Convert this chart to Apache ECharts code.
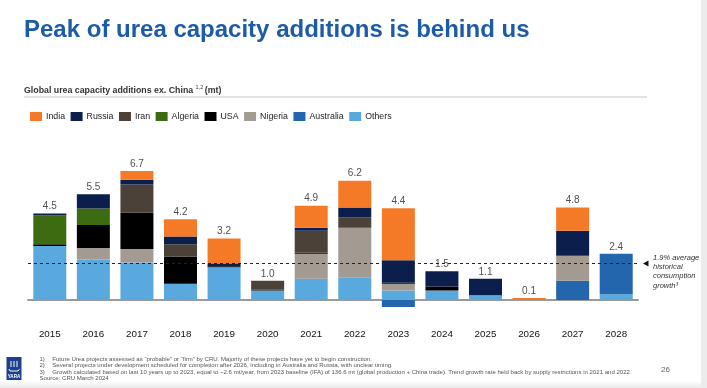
<!DOCTYPE html>
<html>
<head>
<meta charset="utf-8">
<script src="https://cdn.jsdelivr.net/npm/echarts@6/dist/echarts.min.js"></script>
<style>
html,body{margin:0;padding:0;background:#fff;}
#c{width:707px;height:388px;}
</style>
</head>
<body>
<div id="c"></div>
<script>
const years = ['2015','2016','2017','2018','2019','2020','2021','2022','2023','2024','2025','2026','2027','2028'];
const others    = [2.8, 2.1, 1.95, 0.85, 1.7, 0.5, 1.1, 1.15, 0.5, 0.5, 0.25, 0, 0, 0.3];
const australia = [0, 0, 0, 0, 0, 0, 0, 0, -0.37, 0, 0, 0, 1.0, 2.1];
const nigeria   = [0, 0.6, 0.7, 0, 0, 0, 1.3, 2.6, 0.35, 0, 0, 0, 1.3, 0];
const usa       = [0.1, 1.2, 1.9, 1.4, 0.05, 0.05, 0.05, 0, 0.05, 0.2, 0, 0, 0, 0];
const algeria   = [1.5, 0.85, 0, 0, 0, 0, 0, 0, 0, 0, 0, 0, 0, 0];
const iran      = [0, 0, 1.45, 0.65, 0, 0.45, 1.15, 0.55, 0, 0, 0, 0, 0, 0];
const russia    = [0.1, 0.75, 0.25, 0.4, 0.15, 0, 0.15, 0.5, 1.17, 0.8, 0.85, 0, 1.3, 0];
const india     = [0, 0, 0.45, 0.9, 1.3, 0, 1.15, 1.4, 2.7, 0, 0, 0.1, 1.2, 0];
const totals    = ['4.5','5.5','6.7','4.2','3.2','1.0','4.9','6.2','4.4','1.5','1.1','0.1','4.8','2.4'];
const growthLine = 1.9;

const seriesDefs = [
  ['Others', others, '#59a9df'],
  ['Australia', australia, '#2366ad'],
  ['Nigeria', nigeria, '#a39a92'],
  ['USA', usa, '#000000'],
  ['Algeria', algeria, '#3d6b12'],
  ['Iran', iran, '#4b4139'],
  ['Russia', russia, '#0c1f4c'],
  ['India', india, '#f57a28']
];
const legendOrder = ['India','Russia','Iran','Algeria','USA','Nigeria','Australia','Others'];

const posTop = years.map((_, i) => seriesDefs.reduce((s, d) => s + Math.max(0, d[1][i]), 0));

const chart = echarts.init(document.getElementById('c'), null, {renderer:'canvas'});

const series = seriesDefs.map(d => ({
  name: d[0], type: 'bar', stack: 'cap', data: d[1], barWidth: 33,
  itemStyle: {color: d[2]}, emphasis: {disabled: true}
}));
series.push({
  name: 'Total', type: 'scatter', data: posTop, symbolSize: 0, silent: true, z: 10,
  label: {show: true, position: 'top', distance: 2, fontSize: 10, color: '#222',
          fontFamily: 'Liberation Sans, Arial', formatter: p => totals[p.dataIndex]},
  markLine: {symbol: 'none', silent: true, label: {show: false},
    lineStyle: {type: [3, 3], color: '#222', width: 1},
    data: [{yAxis: growthLine}]}
});

chart.setOption({
  animation: false,
  textStyle: {fontFamily: 'Liberation Sans, Arial'},
  grid: {left: 28, top: 146, width: 610, height: 173.25, containLabel: false, outerBoundsMode: 'none'},
  legend: {
    data: legendOrder, left: 25, top: 107, itemWidth: 12, itemHeight: 9, itemGap: 5.5,
    icon: 'rect', selectedMode: false,
    textStyle: {fontSize: 8.8, color: '#222', fontFamily: 'Liberation Sans, Arial', padding: [0,0,0,-1]}
  },
  xAxis: {
    type: 'category', data: years,
    axisLine: {onZero: true, lineStyle: {color: '#9a9a9a', width: 2}},
    axisTick: {show: false},
    axisLabel: {fontSize: 9.8, color: '#111', margin: 10, fontFamily: 'Liberation Sans, Arial'}
  },
  yAxis: {type: 'value', min: -1, max: 8, show: false, splitLine: {show: false}},
  series: series,
  graphic: []
});

const yLine = chart.convertToPixel({yAxisIndex: 0}, growthLine);

const g = [];
g.push({type:'text', left: 24, top: 18.5, style:{text:'Peak of urea capacity additions is behind us', font:'bold 24px "Liberation Sans", Arial', fill:'#1c5ba7'}});
// subtitle
const cv = document.createElement('canvas').getContext('2d');
cv.font = 'bold 8.8px "Liberation Sans", Arial';
const sub = 'Global urea capacity additions ex. China ';
const w1 = cv.measureText(sub).width;
cv.font = '5.5px "Liberation Sans", Arial';
const w2 = cv.measureText('1,2').width;
g.push({type:'text', x: 24, y: 90.3, style:{text: sub, font:'bold 8.8px "Liberation Sans", Arial', fill:'#333', verticalAlign:'middle'}});
g.push({type:'text', x: 24 + w1, y: 87.5, style:{text: '1,2', font:'5.5px "Liberation Sans", Arial', fill:'#333', verticalAlign:'middle'}});
g.push({type:'text', x: 24 + w1 + w2 + 1.5, y: 90.3, style:{text: '(mt)', font:'bold 8.8px "Liberation Sans", Arial', fill:'#333', verticalAlign:'middle'}});
g.push({type:'line', shape:{x1:24, y1:97, x2:647, y2:97}, style:{stroke:'#c8c8c8', lineWidth:1.2}});
// annotation
g.push({type:'polygon', shape:{points:[[643, yLine], [648.5, yLine-3], [648.5, yLine+3]]}, style:{fill:'#111'}});
g.push({type:'text', x: 653, y: 253, style:{text:'1.9% average\nhistorical\nconsumption\ngrowth³', font:'italic 7.5px "Liberation Sans", Arial', fill:'#333', lineHeight: 9.3}});
// footnotes
const fn = [
  ['1)', 'Future Urea projects assessed as “probable” or “firm” by CRU. Majority of these projects have yet to begin construction.'],
  ['2)', 'Several projects under development scheduled for completion after 2026, including in Australia and Russia, with unclear timing.'],
  ['3)', 'Growth calculated based on last 10 years up to 2023, equal to ~2.6 mt/year, from 2023 baseline (IFA) of 136.6 mt (global production + China trade). Trend growth rate held back by supply restrictions in 2021 and 2022.']
];
const fy = [359, 365.7, 372.3];
const fnFont = '6.05px "Liberation Sans", Arial';
fn.forEach((f, i) => {
  g.push({type:'text', x: 39.5, y: fy[i], style:{text:f[0], font:fnFont, fill:'#555', verticalAlign:'middle'}});
  g.push({type:'text', x: 52.3, y: fy[i], style:{text:f[1], font:fnFont, fill:'#555', verticalAlign:'middle'}});
});
g.push({type:'text', x: 39.5, y: 378.8, style:{text:'Source: CRU March 2024', font:fnFont, fill:'#555', verticalAlign:'middle'}});
g.push({type:'text', x: 661, y: 370, style:{text:'26', font:'8px "Liberation Sans", Arial', fill:'#666', verticalAlign:'middle'}});
// logo
g.push({type:'rect', shape:{x:6.5, y:357, width:15, height:23}, style:{fill:'#1d3f8c'}});
g.push({type:'polyline', shape:{points:[[9,369],[10,371],[18,371],[19.5,369]]}, style:{stroke:'#fff', lineWidth:1, fill:null}});
g.push({type:'line', shape:{x1:11,y1:361,x2:11,y2:367}, style:{stroke:'#fff', lineWidth:1}});
g.push({type:'line', shape:{x1:14,y1:361,x2:14,y2:367}, style:{stroke:'#fff', lineWidth:1}});
g.push({type:'line', shape:{x1:17,y1:361,x2:17,y2:367}, style:{stroke:'#fff', lineWidth:1}});
g.push({type:'text', x: 14, y: 376.5, style:{text:'YARA', font:'bold 4.6px "Liberation Sans", Arial', fill:'#fff', align:'center', verticalAlign:'middle'}});
// bottom shade and right strip
g.push({type:'rect', shape:{x:0, y:381, width:707, height:7}, z:-1, style:{fill:{type:'linear', x:0, y:0, x2:0, y2:1, colorStops:[{offset:0,color:'rgba(235,235,235,0)'},{offset:1,color:'rgba(232,232,232,1)'}]}}});
g.push({type:'rect', shape:{x:701, y:0, width:6, height:388}, style:{fill:'#ececec'}});

chart.setOption({graphic: g});
</script>
</body>
</html>
